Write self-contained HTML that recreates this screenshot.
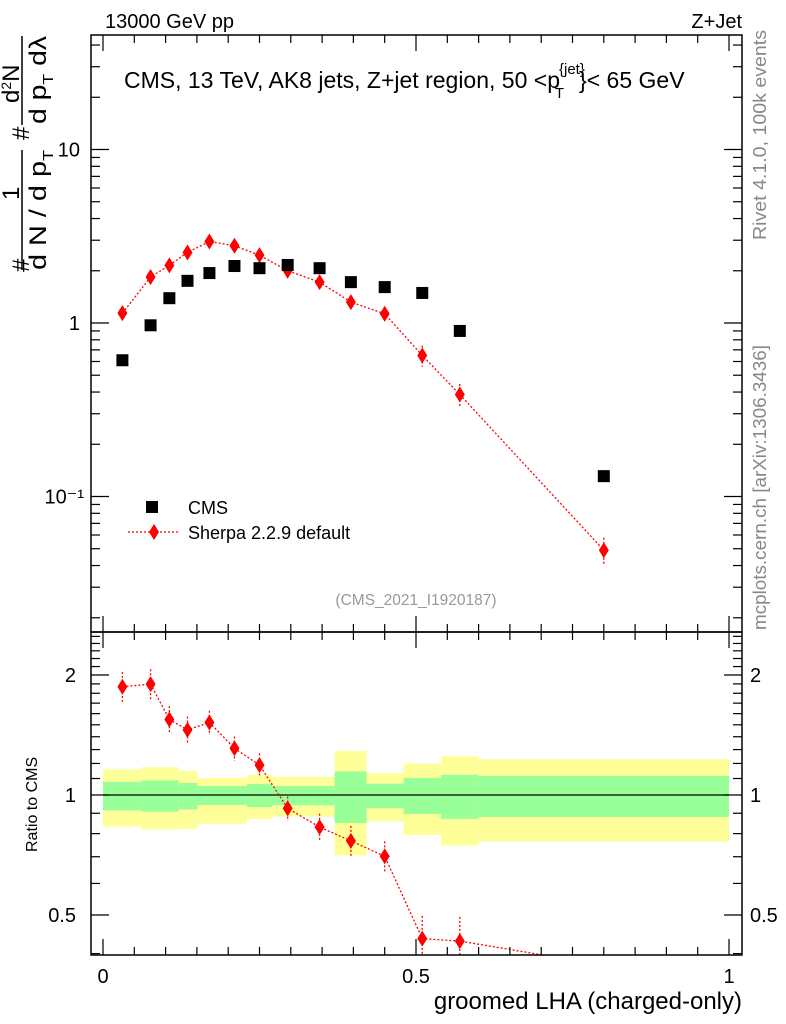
<!DOCTYPE html>
<html><head><meta charset="utf-8"><style>
html,body{margin:0;padding:0;background:#fff;}
svg{display:block;font-family:"Liberation Sans",Arial,sans-serif;}
</style></head><body>
<svg id="chart" width="786" height="1024" viewBox="0 0 786 1024" xmlns="http://www.w3.org/2000/svg">
<g id="bands"></g>
<g id="marks"></g>
<g id="axes"></g>
<text x="105" y="28" font-size="20">13000 GeV pp</text>
<text x="742" y="28" font-size="20" text-anchor="end">Z+Jet</text>
<text x="124" y="88" font-size="23">CMS, 13 TeV, AK8 jets, Z+jet region, 50 &lt;p<tspan font-size="15" dx="-1" dy="-14">{jet}</tspan><tspan font-size="15" dx="-30" dy="24">T</tspan><tspan dx="15" dy="-10">}&lt; 65 GeV</tspan></text>
<text x="416" y="605" font-size="15.5" fill="#999" text-anchor="middle">(CMS_2021_I1920187)</text>
<text transform="translate(766,240) rotate(-90)" font-size="18" fill="#888" textLength="210" lengthAdjust="spacingAndGlyphs">Rivet 4.1.0,  100k events</text>
<text transform="translate(766,630) rotate(-90)" font-size="18" fill="#888" textLength="285" lengthAdjust="spacingAndGlyphs">mcplots.cern.ch [arXiv:1306.3436]</text>
<g>
<rect x="146" y="501" width="12" height="12" fill="#000"/>
<text x="188" y="514" font-size="18">CMS</text>
<line x1="128" y1="532" x2="180" y2="532" stroke="#f00" stroke-width="1.3" stroke-dasharray="2,2"/>
<polygon points="154,524 159,532 154,540 149,532" fill="#f00"/>
<text x="188" y="539" font-size="18">Sherpa 2.2.9 default</text>
</g>
<g font-size="24">
<line x1="22" y1="270" x2="22" y2="150" stroke="#000" stroke-width="1.5"/>
<text transform="translate(29,272) rotate(-90)">#</text>
<text transform="translate(19,200) rotate(-90)">1</text>
<text transform="translate(46,270) rotate(-90)" textLength="120" lengthAdjust="spacingAndGlyphs">d N / d p<tspan font-size="15" dy="7">T</tspan></text>
<text transform="translate(29,140) rotate(-90)">#</text>
<line x1="22" y1="125" x2="22" y2="36" stroke="#000" stroke-width="1.5"/>
<text transform="translate(19,103) rotate(-90)">d<tspan font-size="14" dy="-8">2</tspan><tspan dy="8">N</tspan></text>
<text transform="translate(46,124) rotate(-90)" textLength="88" lengthAdjust="spacingAndGlyphs">d p<tspan font-size="15" dy="7">T</tspan><tspan dy="-7">  dλ</tspan></text>
</g>
<text transform="translate(37,852) rotate(-90)" font-size="16">Ratio to CMS</text>
<text x="742" y="1009" font-size="24" text-anchor="end">groomed LHA (charged-only)</text>
</svg>
<script>
const xCenters=[0.031,0.076,0.106,0.135,0.17,0.21,0.25,0.295,0.346,0.396,0.45,0.51,0.57,0.8];
const cmsValues=[0.61,0.97,1.39,1.75,1.94,2.13,2.07,2.16,2.07,1.72,1.61,1.49,0.90,0.131];
const sherpaValues=[1.14,1.84,2.15,2.55,2.95,2.79,2.46,2.0,1.72,1.32,1.13,0.65,0.387,0.049];
const sherpaRelErr=[0.09,0.09,0.08,0.08,0.07,0.07,0.07,0.07,0.08,0.09,0.09,0.14,0.15,0.18];
const binEdges=[0,0.061,0.121,0.151,0.23,0.27,0.37,0.421,0.48,0.54,0.60,1.0];
const yellowUp=[1.16,1.175,1.149,1.103,1.124,1.11,1.29,1.134,1.2,1.25,1.23];
const yellowDn=[0.833,0.82,0.822,0.847,0.871,0.883,0.705,0.859,0.794,0.747,0.764];
const greenUp=[1.079,1.088,1.072,1.053,1.066,1.053,1.146,1.068,1.103,1.124,1.116];
const greenDn=[0.915,0.908,0.92,0.944,0.933,0.942,0.851,0.926,0.896,0.871,0.881];
const xTickLabels=["0","0.5","1"];
const mainTickLabels=["10\u207B\u00B9","1","10"];
const ratioTickLabels=["0.5","1","2"];

const NS="http://www.w3.org/2000/svg";
const L=91,R=742,T=35,MB=632,RB=955;
const X=v=>103+626*v;
const Ym=v=>323-173.5*Math.log10(v);
const Yr=v=>795-398.6*Math.log10(v);
function mk(tag,attrs,parent){const e=document.createElementNS(NS,tag);for(const k in attrs)e.setAttribute(k,attrs[k]);parent.appendChild(e);return e;}
const bands=document.getElementById('bands'),marks=document.getElementById('marks'),axes=document.getElementById('axes');

for(let i=0;i<binEdges.length-1;i++){
  const x0=X(binEdges[i]),x1=X(binEdges[i+1]);
  const y=mk('rect',{x:x0,y:Yr(yellowUp[i]),width:x1-x0,height:Yr(yellowDn[i])-Yr(yellowUp[i]),fill:'#ffff99'},bands);
  
  
  const g=mk('rect',{x:x0,y:Yr(greenUp[i]),width:x1-x0,height:Yr(greenDn[i])-Yr(greenUp[i]),fill:'#99ff99'},bands);
  
  
}
const one=mk('line',{x1:X(0),x2:X(1),y1:Yr(1),y2:Yr(1),stroke:'#000','stroke-width':1.3},bands);



function diamond(cx,cy,parent,name){
  const p=mk('polygon',{points:`${cx},${cy-8} ${cx+5},${cy} ${cx},${cy+8} ${cx-5},${cy}`,fill:'#f00'},parent);
  
  
}
let pts=xCenters.map((x,i)=>X(x)+','+Ym(sherpaValues[i])).join(' ');
const ml=mk('polyline',{points:pts,fill:'none',stroke:'#f00','stroke-width':1.3,'stroke-dasharray':'2,2'},marks);


xCenters.forEach((x,i)=>{
  const v=sherpaValues[i],e=sherpaRelErr[i]*v;
  const eb=mk('line',{x1:X(x),x2:X(x),y1:Ym(v+e),y2:Ym(v-e),stroke:'#f00','stroke-width':1.3,'stroke-dasharray':'2,2'},marks);
  
  
  diamond(X(x),Ym(v),marks,'sherpa-point-'+i);
  const s=mk('rect',{x:X(x)-6,y:Ym(cmsValues[i])-6,width:12,height:12,fill:'#000'},marks);
  
  
});
const clip=mk('clipPath',{id:'rc'},marks);mk('rect',{x:L,y:MB,width:R-L,height:RB-MB},clip);
const rg=mk('g',{'clip-path':'url(#rc)'},marks);


const ratios=xCenters.map((x,i)=>sherpaValues[i]/cmsValues[i]);
const rl=mk('polyline',{points:xCenters.map((x,i)=>X(x)+','+Yr(ratios[i])).join(' '),fill:'none',stroke:'#f00','stroke-width':1.3,'stroke-dasharray':'2,2'},rg);


xCenters.forEach((x,i)=>{
  const r=ratios[i],e=sherpaRelErr[i]*r;
  if(Yr(r)>RB||Yr(r)<MB) return;
  const eb=mk('line',{x1:X(x),x2:X(x),y1:Yr(r+e),y2:Yr(r-e),stroke:'#f00','stroke-width':1.3,'stroke-dasharray':'2,2'},rg);
  
  
  diamond(X(x),Yr(r),rg,'ratio-point-'+i);
});

const f1=mk('rect',{x:L,y:T,width:R-L,height:MB-T,fill:'none',stroke:'#000','stroke-width':1.5},axes);


const f2=mk('rect',{x:L,y:MB,width:R-L,height:RB-MB,fill:'none',stroke:'#000','stroke-width':1.5},axes);


function tick(x1,y1,x2,y2){mk('line',{x1,y1,x2,y2,stroke:'#000','stroke-width':1.2},axes);}
for(let k=0;k<=20;k++){
  const v=k*0.05,x=X(v),len=(k%10===0)?16:8;
  tick(x,T,x,T+len);tick(x,MB,x,MB-len);tick(x,MB,x,MB+len);tick(x,RB,x,RB-len);
}
xTickLabels.forEach((t,i)=>{
  const tx=mk('text',{x:X(i*0.5),y:983,'font-size':20,'text-anchor':'middle'},axes);tx.textContent=t;
  
  
});
[0.01,0.1,1,10].forEach(d=>{for(let m=1;m<=9;m++){const v=d*m,y=Ym(v);if(y<T||y>MB)continue;const len=m===1?18:9;tick(L,y,L+len,y);tick(R,y,R-len,y);}});
mainTickLabels.forEach((t,i)=>{
  const v=Math.pow(10,i-1);
  const tx=mk('text',{x:i===0?84:80,y:Ym(v)+7,'font-size':20,'text-anchor':'end'},axes);tx.textContent=t;
  
  
});
for(let k=4;k<=25;k++){const v=k/10,y=Yr(v);if(y<MB||y>RB)continue;const len=(k===5||k===10||k===20)?18:9;tick(L,y,L+len,y);tick(R,y,R-len,y);}
ratioTickLabels.forEach((t,i)=>{
  const v=[0.5,1,2][i];
  const a=mk('text',{x:76,y:Yr(v)+7,'font-size':20,'text-anchor':'end'},axes);a.textContent=t;
  
  
  const b=mk('text',{x:750,y:Yr(v)+7,'font-size':20},axes);b.textContent=t;
  
  
});
</script>
</body></html>
